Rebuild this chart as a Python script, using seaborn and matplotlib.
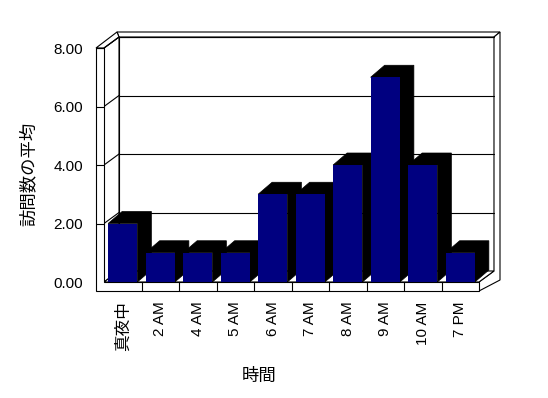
import matplotlib
matplotlib.use('Agg')
import matplotlib.pyplot as plt
import seaborn as sns
import pandas as pd
from matplotlib.patches import Polygon
from matplotlib.lines import Line2D
from matplotlib.transforms import IdentityTransform

categories = ['真夜中', '2 AM', '4 AM', '5 AM', '6 AM', '7 AM', '8 AM', '9 AM', '10 AM', '7 PM']
values = [2, 1, 1, 1, 3, 3, 4, 7, 4, 1]
y_ticks = [0, 2, 4, 6, 8]
y_tick_labels = ['0.00', '2.00', '4.00', '6.00', '8.00']
x_title = '時間'
y_title = '訪問数の平均'

sns.set_theme(style='white')
plt.rcParams['font.family'] = ['Liberation Sans', 'Noto Sans CJK JP']

W, H = 548, 398
fig = plt.figure(figsize=(W / 100, H / 100), dpi=100)
fig.patch.set_facecolor('white')
ax = fig.add_axes([104 / W, (H - 282) / H, 375 / W, 234 / H])

df = pd.DataFrame({'cat': categories, 'val': values})
sns.barplot(data=df, x='cat', y='val', color='#000080', saturation=1,
            width=0.78, linewidth=0, ax=ax)
bars = list(ax.patches)

ax.set_xlim(-0.5, len(categories) - 0.5)
ax.set_ylim(0, 8)
ax.set_yticks(y_ticks)
ax.set_yticklabels(y_tick_labels, fontsize=11)
ax.set_xticks(range(len(categories)))
ax.set_xticklabels(categories, rotation=90, fontsize=11)
ax.get_xticklabels()[0].set_fontsize(12)
ax.tick_params(axis='x', length=0, pad=14, colors='black')
ax.tick_params(axis='y', length=0, pad=15, colors='black')
ax.patch.set_visible(False)
for s in ax.spines.values():
    s.set_visible(False)
ax.grid(False)

ax.set_xlabel(x_title, fontsize=12.5, va='center', color='black')
ax.set_ylabel(y_title, fontsize=12.5, va='center', color='black')
ax.xaxis.set_label_coords(0.413, -0.402)
ax.yaxis.set_label_coords(-0.203, 0.462)

IDT = IdentityTransform()


def P(x, y, ox=0, oy=0):
    X, Y = ax.transData.transform((x, y))
    return (X + ox, Y + oy)


def poly(pts, fc='white', z=0.5, ec='black', lw=0.8):
    p = Polygon(pts, closed=True, facecolor=fc, edgecolor=ec, linewidth=lw,
                transform=IDT, clip_on=False, zorder=z)
    ax.add_patch(p)


def line(p1, p2, z=0.6, lw=0.8):
    l = Line2D([p1[0], p2[0]], [p1[1], p2[1]], color='black', linewidth=lw,
               transform=IDT, clip_on=False, zorder=z)
    ax.add_artist(l)


X0, X1 = -0.5, len(categories) - 0.5
Y1 = 8
dx, dy = 15, 11      # wall depth
t = 8                # left wall thickness
f = 9                # floor thickness
bx, by = 6, 5        # back wall thickness

# back wall front face
poly([P(X0, 0, dx, dy), P(X1, 0, dx, dy), P(X1, Y1, dx, dy), P(X0, Y1, dx, dy)], z=0.4)
# back wall top face
poly([P(X0, Y1, dx, dy), P(X1, Y1, dx, dy), P(X1, Y1, dx + bx, dy + by),
      P(X0, Y1, dx + bx - t, dy + by)], z=0.4)
# right side (back wall right face + floor right face)
poly([P(X1, 0), P(X1, 0, dx, dy), P(X1, Y1, dx, dy), P(X1, Y1, dx + bx, dy + by),
      P(X1, 0, dx + bx, dy + by - 14), P(X1, 0, 0, -f)], z=0.4)
# left wall inner face
poly([P(X0, 0), P(X0, Y1), P(X0, Y1, dx, dy), P(X0, 0, dx, dy)], z=0.4)
# left wall top face
poly([P(X0, Y1, -t, 0), P(X0, Y1), P(X0, Y1, dx, dy), P(X0, Y1, dx + bx - t, dy + by)], z=0.4)
# floor top face
poly([P(X0, 0), P(X1, 0), P(X1, 0, dx, dy), P(X0, 0, dx, dy)], z=0.45)
# front L-shaped face (left wall front + floor front)
poly([P(X0, Y1, -t, 0), P(X0, Y1), P(X0, 0), P(X1, 0), P(X1, 0, 0, -f),
      P(X0, 0, -t, -f)], z=0.8)

# gridlines
for v in y_ticks[1:]:
    line(P(X0, v, -t, 0), P(X0, v), z=0.85)
    line(P(X0, v), P(X0, v, dx, dy))
    line(P(X0, v, dx, dy), P(X1, v, dx, dy))

# category ticks on floor front
for k in range(len(categories) - 1):
    line(P(k + 0.5, 0), P(k + 0.5, 0, 0, -f), z=0.85)

# 3D bar sides / tops
bdx, bdy = 14, 12
for i, b in enumerate(bars):
    x, w, h = b.get_x(), b.get_width(), b.get_height()
    poly([P(x, h), P(x, h, bdx, bdy), P(x + w, h, bdx, bdy), P(x + w, 0, bdx, bdy),
          P(x + w, 0), P(x + w, h)], fc='black', ec='black', lw=0.5, z=2 + 2 * i)
    b.set_zorder(3 + 2 * i)

fig.savefig('out.png', dpi=100, facecolor='white')
